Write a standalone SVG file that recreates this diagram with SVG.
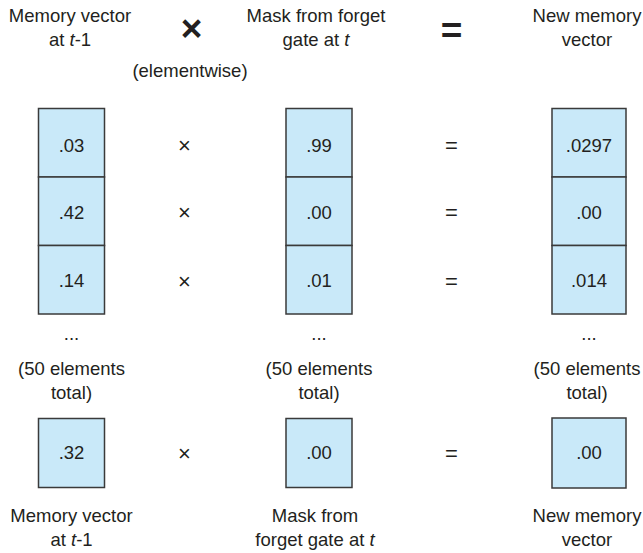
<svg xmlns="http://www.w3.org/2000/svg" width="643" height="553" viewBox="0 0 643 553">
<style>
text{font-family:"Liberation Sans",Arial,sans-serif;font-size:18.5px;fill:#231f20;text-anchor:middle}
.cell{fill:#c9e9f9;stroke:#3a3a3a;stroke-width:1.5}
.big{font-size:37px;font-weight:bold}
.op{font-size:22px}
</style>
<rect width="643" height="553" fill="#fff"/>
<g id="header">
<text x="70" y="22">Memory vector</text>
<text x="70" y="46">at <tspan font-style="italic">t</tspan>-1</text>
<text class="big" x="191.5" y="40.5">×</text>
<text x="190" y="77">(elementwise)</text>
<text x="316" y="22">Mask from forget</text>
<text x="316" y="46">gate at <tspan font-style="italic">t</tspan></text>
<text class="big" x="451.5" y="42.5">=</text>
<text x="587" y="22">New memory</text>
<text x="587" y="46">vector</text>
</g>
<g id="memory-vector">
<rect class="cell" x="38.5" y="108.5" width="66" height="68.5"/>
<rect class="cell" x="38.5" y="177" width="66" height="68.5"/>
<rect class="cell" x="38.5" y="245.5" width="66" height="68.5"/>
<text x="71.5" y="151.5">.03</text>
<text x="71.5" y="219">.42</text>
<text x="71.5" y="286.5">.14</text>
<text x="71.5" y="340">...</text>
<text x="71.5" y="375">(50 elements</text>
<text x="71.5" y="399">total)</text>
<rect class="cell" x="38.5" y="418.5" width="66" height="69"/>
<text x="71.5" y="459">.32</text>
<text x="71.5" y="522">Memory vector</text>
<text x="71.5" y="546">at <tspan font-style="italic">t</tspan>-1</text>
</g>
<g id="forget-mask">
<rect class="cell" x="286" y="108.5" width="66" height="68.5"/>
<rect class="cell" x="286" y="177" width="66" height="68.5"/>
<rect class="cell" x="286" y="245.5" width="66" height="68.5"/>
<text x="319" y="151.5">.99</text>
<text x="319" y="219">.00</text>
<text x="319" y="286.5">.01</text>
<text x="319" y="340">...</text>
<text x="319" y="375">(50 elements</text>
<text x="319" y="399">total)</text>
<rect class="cell" x="286" y="418.5" width="66" height="69"/>
<text x="319" y="459">.00</text>
<text x="315" y="522">Mask from</text>
<text x="315" y="546">forget gate at <tspan font-style="italic">t</tspan></text>
</g>
<g id="new-memory">
<rect class="cell" x="552" y="108.5" width="74" height="68.5"/>
<rect class="cell" x="552" y="177" width="74" height="68.5"/>
<rect class="cell" x="552" y="245.5" width="74" height="68.5"/>
<text x="589" y="151.5">.0297</text>
<text x="589" y="219">.00</text>
<text x="589" y="286.5">.014</text>
<text x="589" y="340">...</text>
<text x="587" y="375">(50 elements</text>
<text x="587" y="399">total)</text>
<rect class="cell" x="552" y="418" width="74" height="70"/>
<text x="589" y="459">.00</text>
<text x="587" y="522">New memory</text>
<text x="587" y="546">vector</text>
</g>
<g id="operators">
<text class="op" x="184.5" y="152.5">×</text>
<text class="op" x="184.5" y="220">×</text>
<text class="op" x="184.5" y="288.5">×</text>
<text class="op" x="184.5" y="460.5">×</text>
<text class="op" x="451.5" y="152.5">=</text>
<text class="op" x="451.5" y="220">=</text>
<text class="op" x="451.5" y="288.5">=</text>
<text class="op" x="451.5" y="460.5">=</text>
</g>
</svg>
